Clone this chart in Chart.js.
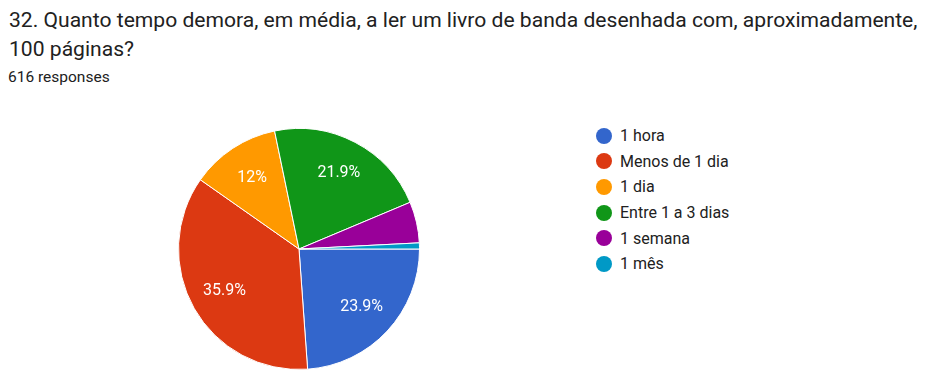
<!DOCTYPE html>
<html>
<head>
<meta charset="utf-8">
<script src="https://cdn.jsdelivr.net/npm/chart.js@4/dist/chart.umd.min.js"></script>
<style>
  body{margin:0;background:#fff;font-family:Roboto,Arial,sans-serif;width:930px;height:377px;overflow:hidden;position:relative}
  .t{position:absolute;left:9px;font-size:21.1px;line-height:1;color:#212121;white-space:nowrap}
  #sub{position:absolute;left:8px;top:69.6px;font-size:15.5px;line-height:1;color:#212121}
  #pieBox{position:absolute;left:178px;top:128px;width:242px;height:242px}
  #legend{position:absolute;left:596px;top:123px}
  .li{height:25.6px;display:flex;align-items:center;font-size:16px;color:#212121}
  .dot{width:16px;height:16px;border-radius:50%;margin-right:8px}
</style>
</head>
<body>
<div class="t" style="top:9px">32. Quanto tempo demora, em média, a ler um livro de banda desenhada com, aproximadamente,</div>
<div class="t" style="top:38px">100 páginas?</div>
<div id="sub">616 responses</div>
<div id="pieBox"><canvas id="pie"></canvas></div>
<div id="legend"></div>
<script>
// dados
const labels = ["1 hora","Menos de 1 dia","1 dia","Entre 1 a 3 dias","1 semana","1 mês"];
const counts = [147, 221, 74, 135, 34, 5];
const colors = ["#3366cc","#dc3912","#ff9900","#109618","#990099","#0099c6"];

const total = counts.reduce((a,b)=>a+b,0);
const pct = (v)=>{ const p = Math.round(v/total*1000)/10; return (p%1===0 ? p.toFixed(0) : p.toFixed(1))+"%"; };

// legenda html
document.getElementById("legend").innerHTML = labels.map((l,i)=>
  `<div class="li"><span class="dot" style="background:${colors[i]}"></span>${l}</div>`).join("");

// rótulos dentro das fatias
const sliceLabels = {
  id:"sliceLabels",
  afterDatasetsDraw(chart){
    const ctx = chart.ctx;
    const meta = chart.getDatasetMeta(0);
    ctx.save();
    ctx.fillStyle = "#fff";
    ctx.font = "16px Roboto, Arial, sans-serif";
    ctx.textAlign = "center";
    ctx.textBaseline = "middle";
    meta.data.forEach((arc,i)=>{
      if(counts[i]/total < 0.08) return;
      const a = (arc.startAngle+arc.endAngle)/2;
      const r = arc.outerRadius*0.71;
      ctx.fillText(pct(counts[i]), arc.x + Math.cos(a)*r, arc.y + Math.sin(a)*r);
    });
    ctx.restore();
  }
};

new Chart(document.getElementById("pie"),{
  type:"pie",
  data:{ labels, datasets:[{ data:counts, backgroundColor:colors, borderColor:"#fff", borderWidth:1 }] },
  options:{
    responsive:true,
    maintainAspectRatio:false,
    animation:false,
    rotation:90,
    layout:{padding:0},
    plugins:{ legend:{display:false}, tooltip:{enabled:false} }
  },
  plugins:[sliceLabels]
});
</script>
</body>
</html>
